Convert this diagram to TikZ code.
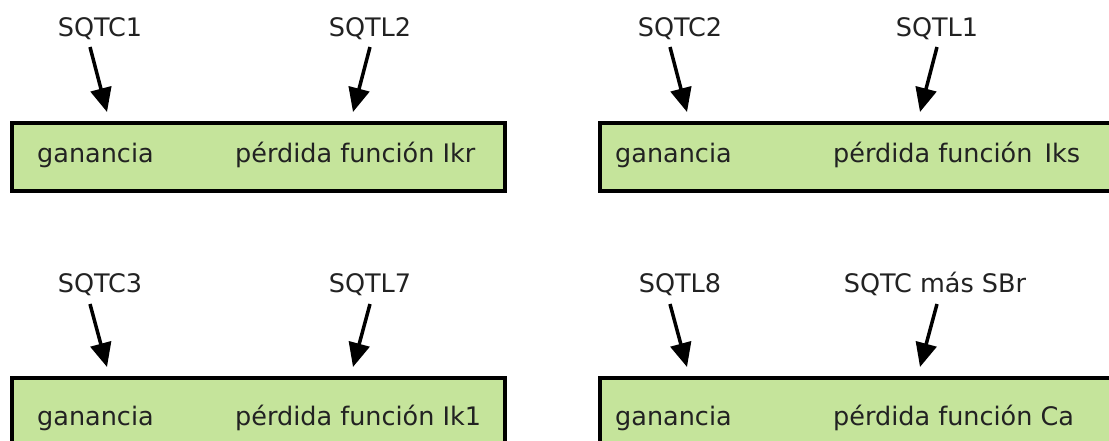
\documentclass[tikz,border=0pt]{standalone}
\usepackage{fontspec}
\setmainfont{DejaVu Sans}
\usetikzlibrary{arrows.meta}
\definecolor{boxgreen}{RGB}{197,228,155}
\definecolor{txt}{RGB}{34,34,34}
\begin{document}
\begin{tikzpicture}[x=1pt,y=-1pt,
  panel/.style={draw=black,fill=boxgreen,line width=3.8pt,anchor=north west,inner sep=0pt},
  lbl/.style={text=txt,inner sep=0pt,anchor=base,font=\fontsize{25.5}{30}\selectfont},
  boxtxt/.style={text=txt,inner sep=0pt,anchor=base west,font=\fontsize{25.5}{30}\selectfont},
  pointer/.style={line width=3.5pt,-{Triangle[length=24pt,width=21pt]}}]
\useasboundingbox (0,0) rectangle (1109,440);
\clip (0,0) rectangle (1109,440);
% top-left
\node[panel,minimum width=493pt,minimum height=68pt] (b1) at (10,121) {};
\node[boxtxt] (g1) at (37,162) {ganancia};
\node[boxtxt] (p1) at (235,162) {pérdida función Ikr};
\node[lbl] (l1a) at (100,36) {SQTC1};
\node[lbl] (l1b) at (370,36) {SQTL2};
\coordinate (s1a) at (90,47); \coordinate (t1a) at (107,112);
\coordinate (s1b) at (370,47); \coordinate (t1b) at (353,112);
\draw[pointer] (s1a) -- (t1a);
\draw[pointer] (s1b) -- (t1b);
% top-right
\node[panel,minimum width=530pt,minimum height=68pt] (b2) at (598,121) {};
\node[boxtxt] (g2) at (615,162) {ganancia};
\node[boxtxt] (p2) at (833,162) {pérdida función\hspace{12pt}Iks};
\node[lbl] (l2a) at (680,36) {SQTC2};
\node[lbl] (l2b) at (937,36) {SQTL1};
\coordinate (s2a) at (670,47); \coordinate (t2a) at (687,112);
\coordinate (s2b) at (937,47); \coordinate (t2b) at (920,112);
\draw[pointer] (s2a) -- (t2a);
\draw[pointer] (s2b) -- (t2b);
% bottom-left
\node[panel,minimum width=493pt,minimum height=90pt] (b3) at (10,376) {};
\node[boxtxt] (g3) at (37,425) {ganancia};
\node[boxtxt] (p3) at (235,425) {pérdida función Ik1};
\node[lbl] (l3a) at (100,292) {SQTC3};
\node[lbl] (l3b) at (370,292) {SQTL7};
\coordinate (s3a) at (90,304); \coordinate (t3a) at (107,367);
\coordinate (s3b) at (370,304); \coordinate (t3b) at (353,367);
\draw[pointer] (s3a) -- (t3a);
\draw[pointer] (s3b) -- (t3b);
% bottom-right
\node[panel,minimum width=530pt,minimum height=90pt] (b4) at (598,376) {};
\node[boxtxt] (g4) at (615,425) {ganancia};
\node[boxtxt] (p4) at (833,425) {pérdida función Ca};
\node[lbl] (l4a) at (680,292) {SQTL8};
\node[lbl] (l4b) at (935,292) {SQTC más SBr};
\coordinate (s4a) at (670,304); \coordinate (t4a) at (687,367);
\coordinate (s4b) at (937,304); \coordinate (t4b) at (920,367);
\draw[pointer] (s4a) -- (t4a);
\draw[pointer] (s4b) -- (t4b);
\end{tikzpicture}
\end{document}
